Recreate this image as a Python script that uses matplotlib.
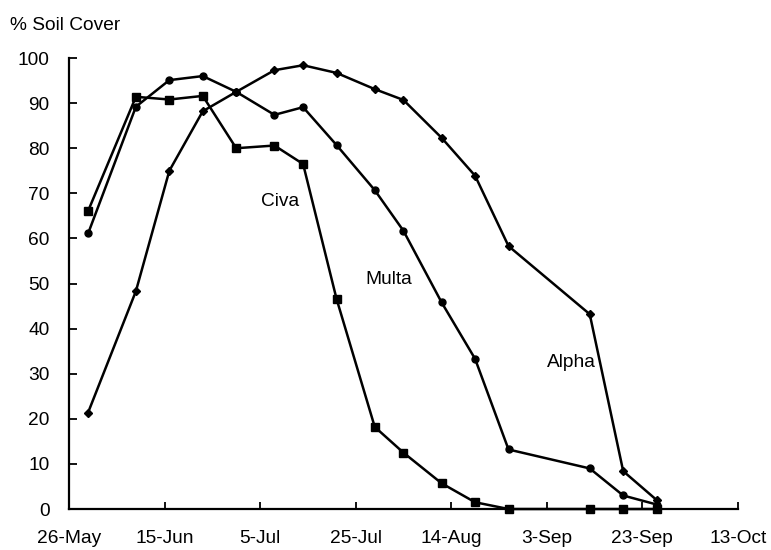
import matplotlib.pyplot as plt
import numpy as np

plt.rcParams["font.family"] = ["Liberation Sans", "DejaVu Sans"]
plt.rcParams["font.size"] = 13.8

# days after 26-May
days = [4, 14, 21, 28, 35, 43, 49, 56, 64, 70, 78, 85, 92, 109, 116, 123]

civa = [66.1, 91.4, 90.8, 91.6, 80.0, 80.6, 76.5, 46.6, 18.2, 12.5, 5.7, 1.5,
        0, 0, 0, 0]
multa = [61.1, 89.2, 95.1, 96.0, 92.5, 87.4, 89.1, 80.7, 70.7, 61.7, 45.8, 33.3,
         13.2, 9.0, 3.0, 1.0]
alpha = [21.4, 48.3, 75.0, 88.2, 92.5, 97.3, 98.4, 96.7, 93.1, 90.7, 82.3, 73.9,
         58.3, 43.2, 8.4, 2.0]

tick_days = [0, 20, 40, 60, 80, 100, 120, 140]
tick_labels = ["26-May", "15-Jun", "5-Jul", "25-Jul", "14-Aug", "3-Sep",
               "23-Sep", "13-Oct"]

fig = plt.figure(figsize=(7.71, 5.5), dpi=100)
ax = fig.add_axes([0.0895, 0.0745, 0.8675, 0.82])

ax.plot(days, civa, color="black", lw=1.8, marker="s", ms=5.5, clip_on=False)
ax.plot(days, multa, color="black", lw=1.8, marker="o", ms=5, clip_on=False)
ax.plot(days, alpha, color="black", lw=1.8, marker="D", ms=3.8, clip_on=False)

ax.text(44.1, 68.1, "Civa", ha="center", va="center")
ax.text(66.9, 51.0, "Multa", ha="center", va="center")
ax.text(105.2, 32.4, "Alpha", ha="center", va="center")

ax.set_xlim(0, 140)
ax.set_ylim(0, 100)
ax.set_xticks(tick_days)
ax.set_xticklabels(tick_labels)
ax.set_yticks(np.arange(0, 101, 10))

for s in ["top", "right"]:
    ax.spines[s].set_visible(False)
for s in ["left", "bottom"]:
    ax.spines[s].set_linewidth(1.6)

ax.tick_params(axis="x", direction="in", length=5, width=1.3, pad=15)
ax.tick_params(axis="y", direction="in", length=6, width=1.3, pad=14)

fig.text(10 / 771, 1 - 25 / 550, "% Soil Cover", ha="left", va="center")

fig.savefig("out.png", dpi=100)
